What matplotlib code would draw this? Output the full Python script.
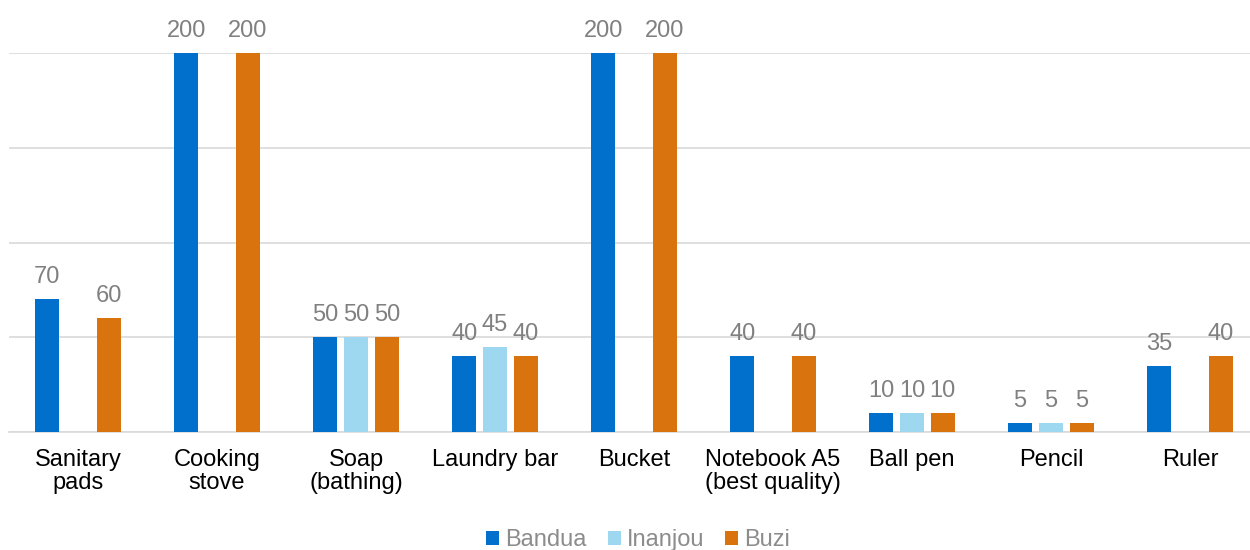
import matplotlib
matplotlib.use("Agg")
import matplotlib.pyplot as plt
import numpy as np

categories = ["Sanitary\npads", "Cooking\nstove", "Soap\n(bathing)", "Laundry bar", "Bucket",
              "Notebook A5\n(best quality)", "Ball pen", "Pencil", "Ruler"]
series_names = ["Bandua", "Inanjou", "Buzi"]
bandua = [70, 200, 50, 40, 200, 40, 10, 5, 35]
inanjou = [None, None, 50, 45, None, None, 10, 5, None]
buzi = [60, 200, 50, 40, 200, 40, 10, 5, 40]
colors = ["#0070CC", "#9DD8F0", "#D9730D"]

plt.rcParams['font.family'] = ['Liberation Sans', 'DejaVu Sans']

fig = plt.figure(figsize=(12.5, 5.5), dpi=100)
ax = fig.add_axes([8.5/1250, 118/550, 1251/1250, 379/550])

x = np.arange(len(categories))
step = 0.222
width = 0.175
label_color = "#808080"
for k, (name, vals, c) in enumerate(zip(series_names, [bandua, inanjou, buzi], colors)):
    xs = [xi + (k - 1) * step for xi, v in zip(x, vals) if v is not None]
    vs = [v for v in vals if v is not None]
    bars = ax.bar(xs, vs, width=width, color=c, label=name, zorder=3)
    for b, v in zip(bars, vs):
        ax.annotate(str(v), (b.get_x() + b.get_width() / 2, b.get_height()),
                    xytext=(0, 11.5), textcoords="offset points",
                    ha="center", va="baseline", fontsize=17, color=label_color,
                    annotation_clip=False)

ax.set_xlim(-0.5, len(categories) - 0.5)
ax.set_ylim(0, 200)
ax.set_yticks([0, 50, 100, 150, 200])
ax.yaxis.grid(True, color="#d9d9d9", linewidth=1.2, zorder=0)
ax.tick_params(axis="y", left=False, labelleft=False)
ax.set_xticks(x)
ax.set_xticklabels(categories, fontsize=17, color="#000000", linespacing=1.05)
ax.tick_params(axis="x", length=0, pad=12)
for s in ["top", "right", "left"]:
    ax.spines[s].set_visible(False)
ax.spines["bottom"].set_color("#d9d9d9")
ax.spines["bottom"].set_linewidth(1.2)

leg = fig.legend(loc="center", bbox_to_anchor=(638/1250, 10/550), ncol=3, frameon=False,
                 fontsize=17, handlelength=0.55, handleheight=0.55, handletextpad=0.25,
                 columnspacing=0.9, labelcolor="#8c8c8c")

fig.savefig("out.png", dpi=100)
